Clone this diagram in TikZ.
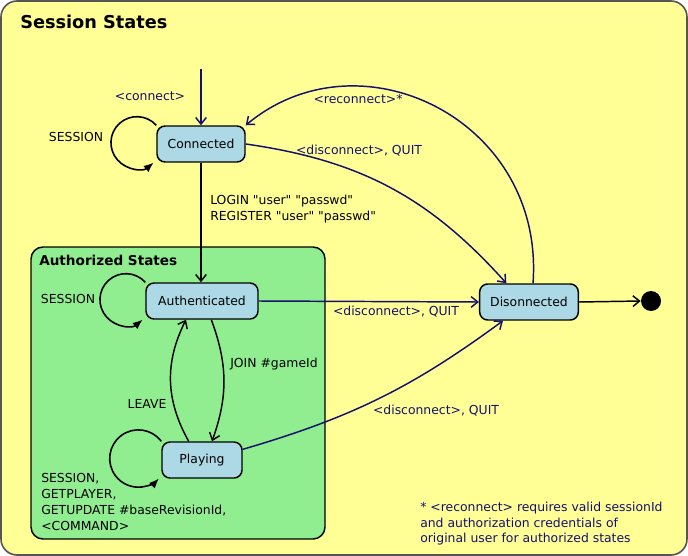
\documentclass[tikz,border=0pt]{standalone}
\usepackage{fontspec}
\setmainfont{DejaVu Sans}[Ligatures=TeXOff]
\definecolor{sessyellow}{RGB}{255, 255, 150}
\definecolor{authgreen}{RGB}{144, 238, 144}
\definecolor{statblue}{RGB}{173, 216, 230}
\definecolor{linknavy}{RGB}{20, 16, 110}
\definecolor{framegray}{RGB}{85, 85, 85}
\usepackage{tikz}
\usetikzlibrary{arrows.meta, positioning}

\begin{document}
\begin{tikzpicture}[
  x=0.75pt, y=0.75pt,
  sbox/.style={draw, line width=1.1pt, rounded corners=6pt, fill=statblue, minimum height=27pt, inner sep=0pt, font=\fontsize{9.3}{11}\selectfont},
  lbl/.style={font=\fontsize{9.3}{11.6}\selectfont, inner sep=0pt},
  navylbl/.style={lbl, text=linknavy},
  trans/.style={line width=1.1pt, -{Straight Barb[length=5pt, width=8pt]}},
  navytrans/.style={trans, draw=linknavy},
  selfloop/.style={line width=1.2pt, -{Latex[length=7.5pt, width=6pt]}}
]
  \useasboundingbox (0,0) rectangle (688,-556);
  % outer state
  \draw[framegray, fill=sessyellow, line width=1.2pt, rounded corners=12pt] (1,-1) rectangle (687,-555);
  \node[anchor=west, inner sep=0pt, font=\fontsize{13.3}{15}\selectfont\bfseries] (title) at (20,-22) {Session States};

  % authorized sub-state
  \draw[fill=authgreen, line width=1.1pt, rounded corners=9pt] (31,-247) rectangle (325,-539);
  \node[anchor=west, inner sep=0pt, font=\fontsize{10.2}{12}\selectfont\bfseries] (authtitle) at (39,-260) {Authorized States};

  % states
  \node[sbox, minimum width=66pt] (con) at (201,-144) {Connected};
  \node[sbox, minimum width=84pt] (aut) at (202,-301) {Authenticated};
  \node[sbox, minimum width=60pt] (pla) at (202,-460) {Playing};
  \node[sbox, minimum width=74pt] (dis) at (529,-302) {Disonnected};
  \node[circle, fill=black, minimum size=15pt, inner sep=0pt] (fin) at (651,-301) {};
  \coordinate (start) at (201,-69);

  % transitions
  \draw[navytrans] (start) -- (con.north);
  \node[navylbl] (lconnect) at (150,-96) {<connect>};

  \draw[selfloop] (con.north west) arc[start angle=42, end angle=310, radius=19.5pt];
  \node[lbl] (lsess1) at (76,-137) {SESSION};

  \draw[trans] (con.south) -- (aut.north -| con.south);
  \node[lbl, anchor=west, align=left] (llogin) at (210,-209) {LOGIN "user" "passwd"\\REGISTER "user" "passwd"};

  \draw[navytrans] (con.east) to[bend left=20] ([xshift=-17pt]dis.north);
  \node[navylbl] (ldisc1) at (359,-151) {<disconnect>, QUIT};

  \draw[navytrans] ([xshift=3pt]dis.north) .. controls (545,-120) and (360,-30) .. (con.north east);
  \node[navylbl] (lrecon) at (358,-99) {<reconnect>*};

  \draw[selfloop] (aut.north west) arc[start angle=42, end angle=310, radius=19.5pt];
  \node[lbl] (lsess2) at (68,-299) {SESSION};

  \draw[navytrans] (aut.east) -- (dis.west);
  \node[navylbl] (ldisc2) at (396,-312) {<disconnect>, QUIT};

  \draw[trans] ([xshift=7pt]aut.south) to[bend left=20] ([xshift=7.5pt]pla.north);
  \node[lbl] (ljoin) at (274,-364) {JOIN \#gameId};

  \draw[trans] ([xshift=-10pt]pla.north) to[bend left=28] ([xshift=-12pt]aut.south);
  \node[lbl] (lleave) at (147,-404) {LEAVE};

  \draw[selfloop] (pla.north west) arc[start angle=37, end angle=316, radius=21.5pt];
  \node[lbl, anchor=north west, align=left, font=\fontsize{9.3}{12}\selectfont] (lsess3) at (41,-473) {SESSION,\\GETPLAYER,\\GETUPDATE \#baseRevisionId,\\<COMMAND>};

  \draw[navytrans] ([yshift=8pt]pla.east) to[bend right=10] ([xshift=-19.5pt]dis.south);
  \node[navylbl] (ldisc3) at (436,-411) {<disconnect>, QUIT};

  \draw[trans] (dis.east) -- (fin.west);

  % footnote
  \node[navylbl, anchor=north west, align=left] (note) at (420,-502) {* <reconnect> requires valid sessionId\\and authorization credentials of\\original user for authorized states};
\end{tikzpicture}
\end{document}
